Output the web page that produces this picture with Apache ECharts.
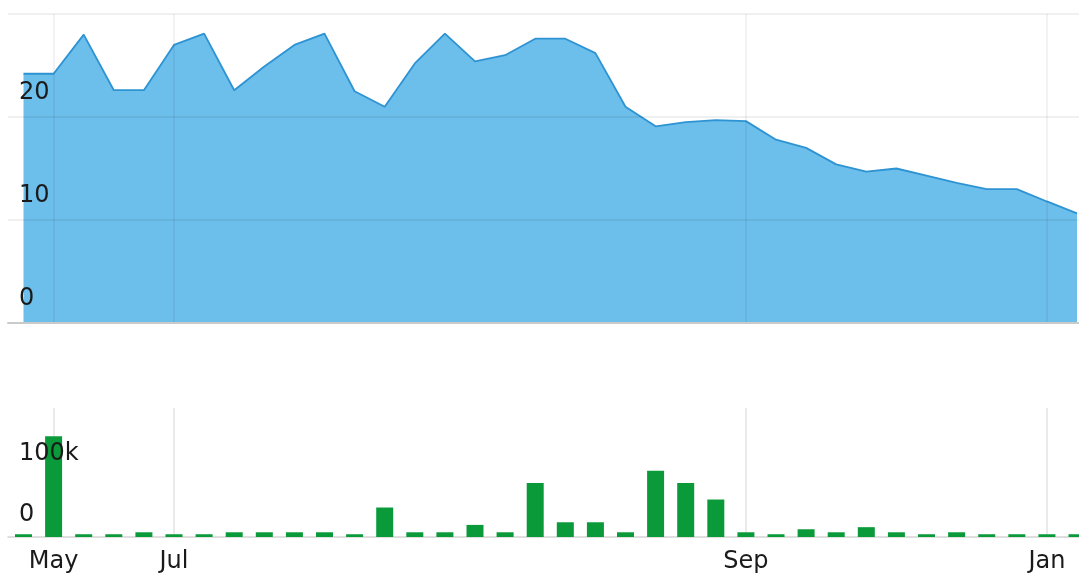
<!DOCTYPE html>
<html>
<head>
<meta charset="utf-8">
<script src="https://cdn.jsdelivr.net/npm/echarts@6/dist/echarts.min.js"></script>
<style>
html,body{margin:0;padding:0;background:#fff;}
#chart{width:1079px;height:575px;}
</style>
</head>
<body>
<div id="chart"></div>
<script>
// Data (weekly points, index 0..35)
const tickIndex = [1, 5, 24, 34];
const tickLabels = ['May', 'Jul', 'Sep', 'Jan'];
const priceValues = [
  24.2, 24.2, 28.0, 22.6, 22.6, 27.0, 28.1, 22.6, 24.9, 27.0,
  28.1, 22.5, 21.0, 25.2, 28.1, 25.4, 26.0, 27.6, 27.6, 26.2,
  21.0, 19.1, 19.5, 19.7, 19.6, 17.8, 17.0, 15.4, 14.7, 15.0,
  14.3, 13.6, 13.0, 13.0, 11.8, 10.65
];
const volumeValues = [
  4500, 164000, 4500, 4500, 7700, 4500, 4500, 7700, 7700, 7700,
  7700, 4500, 48000, 7700, 7700, 19700, 7700, 88000, 24000, 24000,
  7700, 108000, 88000, 61000, 7700, 4500, 12600, 7700, 16000, 7700,
  4500, 7700, 4500, 4500, 4500, 4500
];
const priceTicks = [0, 10, 20];
const volumeTickLabels = { 0: '0', 100000: '100k' };

const pricePoints = priceValues.map((v, i) => [i, v]);
const volumePoints = volumeValues.map((v, i) => [i, v]);

const FONT = 'DejaVu Sans';
const xMin = -0.515, xMax = 35.066;

const chart = echarts.init(document.getElementById('chart'), null, { renderer: 'canvas' });
chart.setOption({
  animation: false,
  backgroundColor: '#fff',
  grid: [
    { left: 8, right: 0, top: 14, height: 309 },
    { left: 8, right: 0, top: 408, height: 129 }
  ],
  xAxis: [
    {
      type: 'value', gridIndex: 0, min: xMin, max: xMax, z: 10,
      axisLine: { show: true, onZero: false, lineStyle: { color: '#cacaca', width: 2 } },
      axisTick: { show: false, customValues: tickIndex },
      axisLabel: { show: false, customValues: tickIndex },
      splitLine: { show: true, lineStyle: { color: 'rgba(0,0,0,0.07)', width: 1.5 } }
    },
    {
      type: 'value', gridIndex: 1, min: xMin, max: xMax,
      axisLine: { show: true, onZero: false, lineStyle: { color: '#d4d4d4', width: 1.5 } },
      axisTick: { show: false, customValues: tickIndex },
      axisLabel: {
        show: true, customValues: tickIndex, margin: 13,
        fontFamily: FONT, fontSize: 24, color: '#1a1a1a',
        formatter: v => tickLabels[tickIndex.indexOf(Math.round(v))] || ''
      },
      splitLine: { show: true, lineStyle: { color: '#e3e3e3', width: 1.5 } }
    }
  ],
  yAxis: [
    {
      type: 'value', gridIndex: 0, min: 0, max: 30, interval: 10, z: 10,
      axisLine: { show: false }, axisTick: { show: false },
      axisLabel: {
        inside: true, margin: 11, fontFamily: FONT, fontSize: 24, color: '#1a1a1a',
        verticalAlign: 'bottom', lineHeight: 48,
        formatter: v => priceTicks.indexOf(v) >= 0 ? String(v) : ''
      },
      splitLine: { show: true, lineStyle: { color: 'rgba(0,0,0,0.08)', width: 1.5 } }
    },
    {
      type: 'value', gridIndex: 1, min: 0, max: 210000, interval: 100000, z: 10,
      axisLine: { show: false }, axisTick: { show: false },
      axisLabel: {
        inside: true, margin: 11, fontFamily: FONT, fontSize: 24, color: '#1a1a1a',
        verticalAlign: 'bottom', lineHeight: 44,
        formatter: v => volumeTickLabels[v] !== undefined ? volumeTickLabels[v] : ''
      },
      splitLine: { show: false }
    }
  ],
  series: [
    {
      type: 'line', xAxisIndex: 0, yAxisIndex: 0,
      data: pricePoints, showSymbol: false,
      lineStyle: { color: '#2e93d3', width: 1.8 },
      areaStyle: { color: 'rgb(71,174,230)', opacity: 0.8 },
      z: 2
    },
    {
      type: 'bar', xAxisIndex: 1, yAxisIndex: 1,
      data: volumePoints, barWidth: 17,
      itemStyle: { color: '#0b9a3a' },
      z: 2
    }
  ]
});
</script>
</body>
</html>
